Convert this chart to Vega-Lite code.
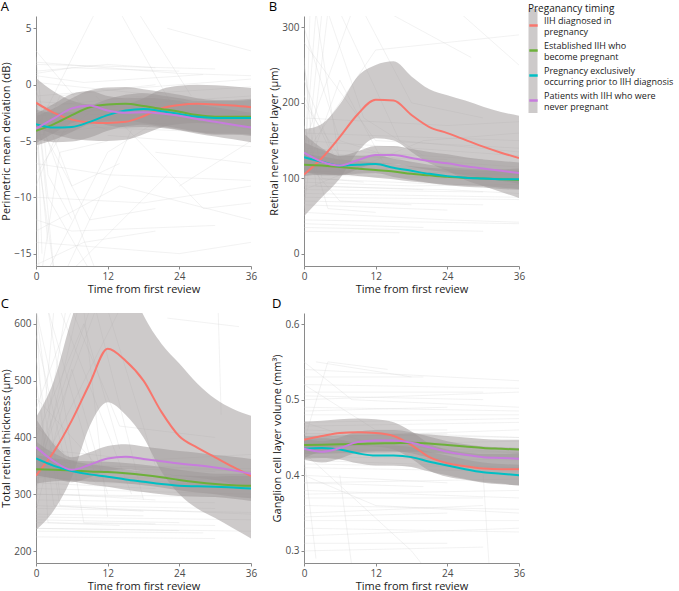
{
"$schema": "https://vega.github.io/schema/vega-lite/v6.json",
"padding": {"left": 0, "top": 1, "right": 0, "bottom": 4},
"background": "white",
"config": {
  "font": "Open Sans",
  "view": {"stroke": null},
  "axis": {"grid": false, "domainColor": "#8a8a8a", "domainWidth": 1, "tickColor": "#8a8a8a", "tickSize": 3, "labelColor": "#4d4d4d", "labelFontSize": 10, "titleFontSize": 11, "titleFontWeight": "normal", "titleColor": "#1a1a1a", "labelPadding": 2, "titlePadding": 2, "labelFlush": false, "labelOverlap": false},
  "title": {"fontSize": 13, "fontWeight": "normal", "color": "#000000", "anchor": "start", "offset": 2}
},
"datasets": {
"bg": [
{"p":"A","id":"A1","t":0,"v":-1},{"p":"A","id":"A1","t":12,"v":-0.5},{"p":"A","id":"A1","t":36,"v":0.5},
{"p":"A","id":"A2","t":0,"v":1},{"p":"A","id":"A2","t":6,"v":1.5},{"p":"A","id":"A2","t":24,"v":1.2},
{"p":"A","id":"A3","t":0,"v":-2},{"p":"A","id":"A3","t":18,"v":-1},{"p":"A","id":"A3","t":30,"v":-1.5},
{"p":"A","id":"A4","t":0,"v":-5},{"p":"A","id":"A4","t":3,"v":-16.5},
{"p":"A","id":"A5","t":0,"v":-8},{"p":"A","id":"A5","t":6,"v":-3},{"p":"A","id":"A5","t":12,"v":-4},
{"p":"A","id":"A6","t":0,"v":0.5},{"p":"A","id":"A6","t":1,"v":-15},
{"p":"A","id":"A7","t":0,"v":-3},{"p":"A","id":"A7","t":9,"v":-12},{"p":"A","id":"A7","t":20,"v":-11},
{"p":"A","id":"A8","t":2,"v":-16.5},{"p":"A","id":"A8","t":12,"v":-6},{"p":"A","id":"A8","t":24,"v":-2},
{"p":"A","id":"A9","t":0,"v":-12},{"p":"A","id":"A9","t":6,"v":-13},{"p":"A","id":"A9","t":30,"v":-12.5},
{"p":"A","id":"A10","t":0,"v":-4},{"p":"A","id":"A10","t":10,"v":6.5},
{"p":"A","id":"A11","t":14,"v":6.5},{"p":"A","id":"A11","t":24,"v":-3},{"p":"A","id":"A11","t":36,"v":-4},
{"p":"A","id":"A12","t":0,"v":-10},{"p":"A","id":"A12","t":18,"v":-10.5},{"p":"A","id":"A12","t":36,"v":-9},
{"p":"A","id":"A13","t":0,"v":2},{"p":"A","id":"A13","t":24,"v":1},{"p":"A","id":"A13","t":36,"v":0.8},
{"p":"A","id":"A14","t":0,"v":-6},{"p":"A","id":"A14","t":4,"v":-1},{"p":"A","id":"A14","t":20,"v":0},
{"p":"A","id":"A15","t":0,"v":-14},{"p":"A","id":"A15","t":24,"v":-15},{"p":"A","id":"A15","t":36,"v":-14},
{"p":"A","id":"A16","t":0,"v":-1.5},{"p":"A","id":"A16","t":30,"v":-2.5},
{"p":"A","id":"A17","t":5,"v":-16.5},{"p":"A","id":"A17","t":16,"v":-4},
{"p":"A","id":"A18","t":0,"v":-7},{"p":"A","id":"A18","t":12,"v":-8},{"p":"A","id":"A18","t":36,"v":-8.5},
{"p":"A","id":"A19","t":10,"v":-1},{"p":"A","id":"A19","t":28,"v":-11},{"p":"A","id":"A19","t":36,"v":-10.5},
{"p":"A","id":"A20","t":0,"v":3},{"p":"A","id":"A20","t":8,"v":-2},{"p":"A","id":"A20","t":36,"v":-1},
{"p":"A","id":"A21","t":0,"v":-3.5},{"p":"A","id":"A21","t":2,"v":-14},
{"p":"A","id":"A22","t":0,"v":-2.5},{"p":"A","id":"A22","t":36,"v":-3},
{"p":"A","id":"A23","t":20,"v":-6},{"p":"A","id":"A23","t":36,"v":-7},
{"p":"A","id":"A24","t":0,"v":-0.5},{"p":"A","id":"A24","t":6,"v":-9},{"p":"A","id":"A24","t":14,"v":-7},
{"p":"A","id":"A25","t":17,"v":6.5},{"p":"A","id":"A25","t":26,"v":-1},
{"p":"A","id":"A26","t":0,"v":1.2},{"p":"A","id":"A26","t":12,"v":1.8},{"p":"A","id":"A26","t":20,"v":1.5},
{"p":"A","id":"A27","t":0,"v":-9},{"p":"A","id":"A27","t":3,"v":-5},{"p":"A","id":"A27","t":10,"v":-2},
{"p":"A","id":"A28","t":0,"v":-16},{"p":"A","id":"A28","t":8,"v":-14},{"p":"A","id":"A28","t":20,"v":-13},
{"p":"A","id":"A29","t":24,"v":-9},{"p":"A","id":"A29","t":36,"v":-5},
{"p":"A","id":"A30","t":0,"v":-1},{"p":"A","id":"A30","t":2,"v":-10},{"p":"A","id":"A30","t":9,"v":-16.5},
{"p":"A","id":"A31","t":0,"v":-2.8},{"p":"A","id":"A31","t":12,"v":-2.2},{"p":"A","id":"A31","t":36,"v":-2.6},
{"p":"A","id":"A32","t":0,"v":0.2},{"p":"A","id":"A32","t":18,"v":-0.8},{"p":"A","id":"A32","t":36,"v":-0.2},
{"p":"A","id":"A33","t":0,"v":-3.2},{"p":"A","id":"A33","t":24,"v":-3.5},
{"p":"A","id":"A34","t":0,"v":-4.5},{"p":"A","id":"A34","t":10,"v":-3.8},{"p":"A","id":"A34","t":30,"v":-4.2},
{"p":"A","id":"A35","t":0,"v":1.8},{"p":"A","id":"A35","t":30,"v":1.4},
{"p":"A","id":"A36","t":0,"v":-0.8},{"p":"A","id":"A36","t":3,"v":-16.5},
{"p":"A","id":"A37","t":1,"v":-16.5},{"p":"A","id":"A37","t":4,"v":-6},{"p":"A","id":"A37","t":12,"v":-5},
{"p":"A","id":"A38","t":0,"v":-6},{"p":"A","id":"A38","t":0.5,"v":-16.5},
{"p":"A","id":"A39","t":0,"v":-2},{"p":"A","id":"A39","t":6,"v":-11},{"p":"A","id":"A39","t":10,"v":-16.5},
{"p":"A","id":"A40","t":0,"v":2.5},{"p":"A","id":"A40","t":2,"v":-8},{"p":"A","id":"A40","t":6,"v":-12},
{"p":"A","id":"A41","t":6,"v":-16.5},{"p":"A","id":"A41","t":22,"v":-8},
{"p":"A","id":"A42","t":0,"v":-13},{"p":"A","id":"A42","t":14,"v":-9},{"p":"A","id":"A42","t":36,"v":-12},
{"p":"A","id":"A43","t":12,"v":-4.5},{"p":"A","id":"A43","t":36,"v":-5.5},
{"p":"A","id":"A44","t":0,"v":0.8},{"p":"A","id":"A44","t":8,"v":0.2},{"p":"A","id":"A44","t":28,"v":0.9},
{"p":"A","id":"A45","t":22,"v":5},{"p":"A","id":"A45","t":36,"v":3},
{"p":"B","id":"B1","t":0,"v":120},{"p":"B","id":"B1","t":12,"v":110},{"p":"B","id":"B1","t":36,"v":105},
{"p":"B","id":"B2","t":0,"v":90},{"p":"B","id":"B2","t":24,"v":85},{"p":"B","id":"B2","t":36,"v":80},
{"p":"B","id":"B3","t":0,"v":150},{"p":"B","id":"B3","t":18,"v":140},{"p":"B","id":"B3","t":36,"v":130},
{"p":"B","id":"B4","t":0,"v":300},{"p":"B","id":"B4","t":6,"v":150},{"p":"B","id":"B4","t":18,"v":120},
{"p":"B","id":"B5","t":0,"v":40},{"p":"B","id":"B5","t":20,"v":35},
{"p":"B","id":"B6","t":0,"v":70},{"p":"B","id":"B6","t":30,"v":65},
{"p":"B","id":"B7","t":0,"v":250},{"p":"B","id":"B7","t":3,"v":100},{"p":"B","id":"B7","t":10,"v":95},
{"p":"B","id":"B8","t":2,"v":320},{"p":"B","id":"B8","t":6,"v":120},
{"p":"B","id":"B9","t":0,"v":60},{"p":"B","id":"B9","t":4,"v":320},
{"p":"B","id":"B10","t":0,"v":180},{"p":"B","id":"B10","t":24,"v":170},{"p":"B","id":"B10","t":36,"v":175},
{"p":"B","id":"B11","t":0,"v":110},{"p":"B","id":"B11","t":36,"v":100},
{"p":"B","id":"B12","t":0,"v":130},{"p":"B","id":"B12","t":12,"v":270},{"p":"B","id":"B12","t":36,"v":290},
{"p":"B","id":"B13","t":10,"v":320},{"p":"B","id":"B13","t":18,"v":200},{"p":"B","id":"B13","t":30,"v":180},
{"p":"B","id":"B14","t":0,"v":100},{"p":"B","id":"B14","t":6,"v":230},{"p":"B","id":"B14","t":14,"v":110},
{"p":"B","id":"B15","t":0,"v":80},{"p":"B","id":"B15","t":36,"v":75},
{"p":"B","id":"B16","t":0,"v":200},{"p":"B","id":"B16","t":8,"v":105},{"p":"B","id":"B16","t":30,"v":100},
{"p":"B","id":"B17","t":0,"v":55},{"p":"B","id":"B17","t":24,"v":45},{"p":"B","id":"B17","t":36,"v":42},
{"p":"B","id":"B18","t":0,"v":140},{"p":"B","id":"B18","t":30,"v":125},
{"p":"B","id":"B19","t":0,"v":95},{"p":"B","id":"B19","t":18,"v":90},{"p":"B","id":"B19","t":36,"v":92},
{"p":"B","id":"B20","t":0,"v":280},{"p":"B","id":"B20","t":12,"v":150},{"p":"B","id":"B20","t":36,"v":140},
{"p":"B","id":"B21","t":4,"v":320},{"p":"B","id":"B21","t":10,"v":180},{"p":"B","id":"B21","t":20,"v":130},
{"p":"B","id":"B22","t":0,"v":35},{"p":"B","id":"B22","t":30,"v":30},
{"p":"B","id":"B23","t":0,"v":160},{"p":"B","id":"B23","t":36,"v":150},
{"p":"B","id":"B24","t":0,"v":115},{"p":"B","id":"B24","t":2,"v":320},
{"p":"B","id":"B25","t":26,"v":320},{"p":"B","id":"B25","t":36,"v":250},
{"p":"B","id":"B26","t":0,"v":105},{"p":"B","id":"B26","t":24,"v":100},
{"p":"B","id":"B27","t":0,"v":230},{"p":"B","id":"B27","t":5,"v":130},{"p":"B","id":"B27","t":24,"v":125},
{"p":"B","id":"B28","t":0,"v":85},{"p":"B","id":"B28","t":20,"v":150},{"p":"B","id":"B28","t":36,"v":160},
{"p":"B","id":"B29","t":14,"v":320},{"p":"B","id":"B29","t":28,"v":260},
{"p":"B","id":"B30","t":0,"v":125},{"p":"B","id":"B30","t":6,"v":70},{"p":"B","id":"B30","t":18,"v":65},
{"p":"B","id":"B31","t":0,"v":45},{"p":"B","id":"B31","t":36,"v":40},
{"p":"B","id":"B32","t":0,"v":65},{"p":"B","id":"B32","t":24,"v":58},
{"p":"B","id":"B33","t":0,"v":75},{"p":"B","id":"B33","t":36,"v":72},
{"p":"B","id":"B34","t":0,"v":100},{"p":"B","id":"B34","t":30,"v":90},
{"p":"B","id":"B35","t":0,"v":135},{"p":"B","id":"B35","t":36,"v":115},
{"p":"B","id":"B36","t":0,"v":50},{"p":"B","id":"B36","t":1,"v":320},
{"p":"B","id":"B37","t":0,"v":90},{"p":"B","id":"B37","t":3,"v":320},
{"p":"B","id":"B38","t":0,"v":210},{"p":"B","id":"B38","t":6,"v":110},{"p":"B","id":"B38","t":36,"v":105},
{"p":"B","id":"B39","t":0,"v":260},{"p":"B","id":"B39","t":2,"v":90},{"p":"B","id":"B39","t":20,"v":85},
{"p":"B","id":"B40","t":0,"v":30},{"p":"B","id":"B40","t":16,"v":28},
{"p":"B","id":"B41","t":0,"v":145},{"p":"B","id":"B41","t":8,"v":320},
{"p":"B","id":"B42","t":6,"v":320},{"p":"B","id":"B42","t":16,"v":150},{"p":"B","id":"B42","t":36,"v":135},
{"p":"B","id":"B43","t":0,"v":115},{"p":"B","id":"B43","t":24,"v":112},{"p":"B","id":"B43","t":36,"v":108},
{"p":"B","id":"B44","t":0,"v":85},{"p":"B","id":"B44","t":30,"v":82},
{"p":"B","id":"B45","t":0,"v":170},{"p":"B","id":"B45","t":4,"v":60},{"p":"B","id":"B45","t":12,"v":55},
{"p":"C","id":"C1","t":0,"v":330},{"p":"C","id":"C1","t":18,"v":320},{"p":"C","id":"C1","t":36,"v":315},
{"p":"C","id":"C2","t":0,"v":280},{"p":"C","id":"C2","t":24,"v":270},{"p":"C","id":"C2","t":36,"v":265},
{"p":"C","id":"C3","t":0,"v":625},{"p":"C","id":"C3","t":4,"v":300},{"p":"C","id":"C3","t":20,"v":290},
{"p":"C","id":"C4","t":0,"v":250},{"p":"C","id":"C4","t":30,"v":245},
{"p":"C","id":"C5","t":0,"v":450},{"p":"C","id":"C5","t":6,"v":625},
{"p":"C","id":"C6","t":0,"v":360},{"p":"C","id":"C6","t":12,"v":350},{"p":"C","id":"C6","t":36,"v":340},
{"p":"C","id":"C7","t":2,"v":625},{"p":"C","id":"C7","t":10,"v":330},{"p":"C","id":"C7","t":24,"v":320},
{"p":"C","id":"C8","t":0,"v":300},{"p":"C","id":"C8","t":36,"v":295},
{"p":"C","id":"C9","t":0,"v":500},{"p":"C","id":"C9","t":3,"v":280},{"p":"C","id":"C9","t":18,"v":270},
{"p":"C","id":"C10","t":0,"v":235},{"p":"C","id":"C10","t":28,"v":232},
{"p":"C","id":"C11","t":0,"v":400},{"p":"C","id":"C11","t":8,"v":600},{"p":"C","id":"C11","t":14,"v":380},
{"p":"C","id":"C12","t":6,"v":625},{"p":"C","id":"C12","t":14,"v":420},{"p":"C","id":"C12","t":30,"v":400},
{"p":"C","id":"C13","t":0,"v":320},{"p":"C","id":"C13","t":20,"v":310},
{"p":"C","id":"C14","t":0,"v":580},{"p":"C","id":"C14","t":5,"v":350},{"p":"C","id":"C14","t":36,"v":345},
{"p":"C","id":"C15","t":0,"v":260},{"p":"C","id":"C15","t":36,"v":255},
{"p":"C","id":"C16","t":0,"v":340},{"p":"C","id":"C16","t":10,"v":625},
{"p":"C","id":"C17","t":12,"v":625},{"p":"C","id":"C17","t":20,"v":350},{"p":"C","id":"C17","t":36,"v":340},
{"p":"C","id":"C18","t":0,"v":290},{"p":"C","id":"C18","t":30,"v":285},
{"p":"C","id":"C19","t":0,"v":625},{"p":"C","id":"C19","t":2,"v":250},{"p":"C","id":"C19","t":14,"v":245},
{"p":"C","id":"C20","t":0,"v":380},{"p":"C","id":"C20","t":18,"v":360},{"p":"C","id":"C20","t":36,"v":370},
{"p":"C","id":"C21","t":4,"v":625},{"p":"C","id":"C21","t":16,"v":300},
{"p":"C","id":"C22","t":0,"v":270},{"p":"C","id":"C22","t":6,"v":520},{"p":"C","id":"C22","t":12,"v":300},
{"p":"C","id":"C23","t":0,"v":310},{"p":"C","id":"C23","t":36,"v":300},
{"p":"C","id":"C24","t":22,"v":610},{"p":"C","id":"C24","t":34,"v":595},
{"p":"C","id":"C25","t":30.5,"v":625},{"p":"C","id":"C25","t":31,"v":440},
{"p":"C","id":"C26","t":0,"v":240},{"p":"C","id":"C26","t":24,"v":236},
{"p":"C","id":"C27","t":0,"v":350},{"p":"C","id":"C27","t":9,"v":625},
{"p":"C","id":"C28","t":0,"v":420},{"p":"C","id":"C28","t":10,"v":320},{"p":"C","id":"C28","t":36,"v":318},
{"p":"C","id":"C29","t":0,"v":265},{"p":"C","id":"C29","t":18,"v":262},
{"p":"C","id":"C30","t":8,"v":625},{"p":"C","id":"C30","t":12,"v":260},
{"p":"C","id":"C31","t":0,"v":240},{"p":"C","id":"C31","t":36,"v":235},
{"p":"C","id":"C32","t":0,"v":255},{"p":"C","id":"C32","t":24,"v":250},
{"p":"C","id":"C33","t":0,"v":275},{"p":"C","id":"C33","t":36,"v":268},
{"p":"C","id":"C34","t":0,"v":300},{"p":"C","id":"C34","t":18,"v":295},
{"p":"C","id":"C35","t":0,"v":225},{"p":"C","id":"C35","t":30,"v":222},
{"p":"C","id":"C36","t":0,"v":280},{"p":"C","id":"C36","t":3,"v":625},
{"p":"C","id":"C37","t":0,"v":300},{"p":"C","id":"C37","t":5,"v":625},
{"p":"C","id":"C38","t":0,"v":625},{"p":"C","id":"C38","t":6,"v":340},{"p":"C","id":"C38","t":24,"v":330},
{"p":"C","id":"C39","t":0,"v":540},{"p":"C","id":"C39","t":4,"v":280},{"p":"C","id":"C39","t":30,"v":275},
{"p":"C","id":"C40","t":0,"v":330},{"p":"C","id":"C40","t":14,"v":625},
{"p":"C","id":"C41","t":2,"v":625},{"p":"C","id":"C41","t":8,"v":250},{"p":"C","id":"C41","t":20,"v":248},
{"p":"C","id":"C42","t":0,"v":470},{"p":"C","id":"C42","t":12,"v":330},{"p":"C","id":"C42","t":36,"v":325},
{"p":"C","id":"C43","t":0,"v":310},{"p":"C","id":"C43","t":7,"v":625},
{"p":"C","id":"C44","t":10,"v":625},{"p":"C","id":"C44","t":18,"v":290},
{"p":"C","id":"C45","t":0,"v":350},{"p":"C","id":"C45","t":30,"v":340},
{"p":"D","id":"D1","t":0,"v":0.46},{"p":"D","id":"D1","t":36,"v":0.45},
{"p":"D","id":"D2","t":0,"v":0.5},{"p":"D","id":"D2","t":36,"v":0.51},
{"p":"D","id":"D3","t":0,"v":0.42},{"p":"D","id":"D3","t":36,"v":0.41},
{"p":"D","id":"D4","t":0,"v":0.38},{"p":"D","id":"D4","t":36,"v":0.37},
{"p":"D","id":"D5","t":0,"v":0.35},{"p":"D","id":"D5","t":30,"v":0.36},
{"p":"D","id":"D6","t":0,"v":0.53},{"p":"D","id":"D6","t":20,"v":0.53},
{"p":"D","id":"D7","t":0,"v":0.47},{"p":"D","id":"D7","t":12,"v":0.44},{"p":"D","id":"D7","t":36,"v":0.43},
{"p":"D","id":"D8","t":0,"v":0.4},{"p":"D","id":"D8","t":24,"v":0.39},
{"p":"D","id":"D9","t":0,"v":0.32},{"p":"D","id":"D9","t":36,"v":0.33},
{"p":"D","id":"D10","t":0,"v":0.55},{"p":"D","id":"D10","t":8,"v":0.5},{"p":"D","id":"D10","t":36,"v":0.49},
{"p":"D","id":"D11","t":0,"v":0.44},{"p":"D","id":"D11","t":36,"v":0.445},
{"p":"D","id":"D12","t":0,"v":0.48},{"p":"D","id":"D12","t":36,"v":0.48},
{"p":"D","id":"D13","t":0,"v":0.36},{"p":"D","id":"D13","t":36,"v":0.355},
{"p":"D","id":"D14","t":0,"v":0.43},{"p":"D","id":"D14","t":18,"v":0.3},{"p":"D","id":"D14","t":20,"v":0.28},
{"p":"D","id":"D15","t":0,"v":0.51},{"p":"D","id":"D15","t":30,"v":0.51},
{"p":"D","id":"D16","t":0,"v":0.41},{"p":"D","id":"D16","t":36,"v":0.405},
{"p":"D","id":"D17","t":0,"v":0.39},{"p":"D","id":"D17","t":20,"v":0.385},
{"p":"D","id":"D18","t":2,"v":0.55},{"p":"D","id":"D18","t":18,"v":0.53},
{"p":"D","id":"D19","t":0,"v":0.45},{"p":"D","id":"D19","t":36,"v":0.46},
{"p":"D","id":"D20","t":0,"v":0.34},{"p":"D","id":"D20","t":36,"v":0.34},
{"p":"D","id":"D21","t":0,"v":0.52},{"p":"D","id":"D21","t":12,"v":0.46},{"p":"D","id":"D21","t":24,"v":0.46},
{"p":"D","id":"D22","t":0,"v":0.37},{"p":"D","id":"D22","t":30,"v":0.37},
{"p":"D","id":"D23","t":0,"v":0.49},{"p":"D","id":"D23","t":36,"v":0.485},
{"p":"D","id":"D24","t":30,"v":0.4},{"p":"D","id":"D24","t":31,"v":0.28},
{"p":"D","id":"D25","t":0,"v":0.425},{"p":"D","id":"D25","t":36,"v":0.42},
{"p":"D","id":"D26","t":0,"v":0.31},{"p":"D","id":"D26","t":24,"v":0.31},
{"p":"D","id":"D27","t":0,"v":0.47},{"p":"D","id":"D27","t":36,"v":0.475},
{"p":"D","id":"D28","t":6,"v":0.4},{"p":"D","id":"D28","t":8,"v":0.28},
{"p":"D","id":"D29","t":0,"v":0.455},{"p":"D","id":"D29","t":24,"v":0.455},
{"p":"D","id":"D30","t":0,"v":0.33},{"p":"D","id":"D30","t":36,"v":0.325},
{"p":"D","id":"D31","t":0,"v":0.465},{"p":"D","id":"D31","t":36,"v":0.47},
{"p":"D","id":"D32","t":0,"v":0.505},{"p":"D","id":"D32","t":30,"v":0.5},
{"p":"D","id":"D33","t":0,"v":0.435},{"p":"D","id":"D33","t":36,"v":0.43},
{"p":"D","id":"D34","t":0,"v":0.39},{"p":"D","id":"D34","t":36,"v":0.395},
{"p":"D","id":"D35","t":0,"v":0.345},{"p":"D","id":"D35","t":24,"v":0.35},
{"p":"D","id":"D36","t":0,"v":0.415},{"p":"D","id":"D36","t":36,"v":0.41},
{"p":"D","id":"D37","t":0,"v":0.455},{"p":"D","id":"D37","t":36,"v":0.45},
{"p":"D","id":"D38","t":0,"v":0.52},{"p":"D","id":"D38","t":36,"v":0.515},
{"p":"D","id":"D39","t":0,"v":0.375},{"p":"D","id":"D39","t":36,"v":0.38},
{"p":"D","id":"D40","t":0,"v":0.485},{"p":"D","id":"D40","t":24,"v":0.49},
{"p":"D","id":"D41","t":0,"v":0.4},{"p":"D","id":"D41","t":12,"v":0.36},{"p":"D","id":"D41","t":36,"v":0.35},
{"p":"D","id":"D42","t":0,"v":0.445},{"p":"D","id":"D42","t":4,"v":0.55},{"p":"D","id":"D42","t":14,"v":0.54},
{"p":"D","id":"D43","t":0,"v":0.3},{"p":"D","id":"D43","t":30,"v":0.305},
{"p":"D","id":"D44","t":0,"v":0.425},{"p":"D","id":"D44","t":2,"v":0.29},
{"p":"D","id":"D45","t":0,"v":0.54},{"p":"D","id":"D45","t":36,"v":0.525}
],
"fit": [
{"p":"A","g":"IIH diagnosed in pregnancy","t":0,"v":-1.6,"lo":-3.8,"hi":0.6},
{"p":"A","g":"IIH diagnosed in pregnancy","t":3,"v":-2.5,"lo":-4.4,"hi":-0.6},
{"p":"A","g":"IIH diagnosed in pregnancy","t":6,"v":-3.1,"lo":-4.8,"hi":-1.4},
{"p":"A","g":"IIH diagnosed in pregnancy","t":9,"v":-3.35,"lo":-4.95,"hi":-1.75},
{"p":"A","g":"IIH diagnosed in pregnancy","t":12,"v":-3.4,"lo":-5.0,"hi":-1.8},
{"p":"A","g":"IIH diagnosed in pregnancy","t":15,"v":-3.3,"lo":-4.9,"hi":-1.7},
{"p":"A","g":"IIH diagnosed in pregnancy","t":18,"v":-2.8,"lo":-4.4,"hi":-1.2},
{"p":"A","g":"IIH diagnosed in pregnancy","t":21,"v":-2.1,"lo":-3.8,"hi":-0.4},
{"p":"A","g":"IIH diagnosed in pregnancy","t":24,"v":-1.8,"lo":-3.5,"hi":-0.1},
{"p":"A","g":"IIH diagnosed in pregnancy","t":27,"v":-1.7,"lo":-3.4,"hi":0.0},
{"p":"A","g":"IIH diagnosed in pregnancy","t":30,"v":-1.75,"lo":-3.45,"hi":-0.05},
{"p":"A","g":"IIH diagnosed in pregnancy","t":33,"v":-1.85,"lo":-3.55,"hi":-0.15},
{"p":"A","g":"IIH diagnosed in pregnancy","t":36,"v":-2.0,"lo":-3.7,"hi":-0.3},
{"p":"A","g":"Established IIH who become pregnant","t":0,"v":-4.1,"lo":-5.4,"hi":-2.8},
{"p":"A","g":"Established IIH who become pregnant","t":3,"v":-3.5,"lo":-4.9,"hi":-2.1},
{"p":"A","g":"Established IIH who become pregnant","t":6,"v":-2.7,"lo":-4.2,"hi":-1.2},
{"p":"A","g":"Established IIH who become pregnant","t":9,"v":-2.0,"lo":-3.5,"hi":-0.5},
{"p":"A","g":"Established IIH who become pregnant","t":12,"v":-1.75,"lo":-3.25,"hi":-0.25},
{"p":"A","g":"Established IIH who become pregnant","t":15,"v":-1.7,"lo":-3.2,"hi":-0.2},
{"p":"A","g":"Established IIH who become pregnant","t":18,"v":-1.9,"lo":-3.4,"hi":-0.4},
{"p":"A","g":"Established IIH who become pregnant","t":21,"v":-2.15,"lo":-3.65,"hi":-0.65},
{"p":"A","g":"Established IIH who become pregnant","t":24,"v":-2.4,"lo":-3.9,"hi":-0.9},
{"p":"A","g":"Established IIH who become pregnant","t":27,"v":-2.7,"lo":-4.2,"hi":-1.2},
{"p":"A","g":"Established IIH who become pregnant","t":30,"v":-2.85,"lo":-4.35,"hi":-1.35},
{"p":"A","g":"Established IIH who become pregnant","t":33,"v":-2.85,"lo":-4.35,"hi":-1.35},
{"p":"A","g":"Established IIH who become pregnant","t":36,"v":-2.85,"lo":-4.45,"hi":-1.25},
{"p":"A","g":"Pregnancy exclusively occurring prior to IIH diagnosis","t":0,"v":-3.5,"lo":-4.8,"hi":-2.2},
{"p":"A","g":"Pregnancy exclusively occurring prior to IIH diagnosis","t":3,"v":-3.8,"lo":-5.1,"hi":-2.5},
{"p":"A","g":"Pregnancy exclusively occurring prior to IIH diagnosis","t":6,"v":-3.75,"lo":-5.05,"hi":-2.45},
{"p":"A","g":"Pregnancy exclusively occurring prior to IIH diagnosis","t":9,"v":-3.3,"lo":-4.7,"hi":-1.9},
{"p":"A","g":"Pregnancy exclusively occurring prior to IIH diagnosis","t":12,"v":-2.7,"lo":-4.1,"hi":-1.3},
{"p":"A","g":"Pregnancy exclusively occurring prior to IIH diagnosis","t":15,"v":-2.3,"lo":-3.7,"hi":-0.9},
{"p":"A","g":"Pregnancy exclusively occurring prior to IIH diagnosis","t":18,"v":-2.15,"lo":-3.55,"hi":-0.75},
{"p":"A","g":"Pregnancy exclusively occurring prior to IIH diagnosis","t":21,"v":-2.35,"lo":-3.75,"hi":-0.95},
{"p":"A","g":"Pregnancy exclusively occurring prior to IIH diagnosis","t":24,"v":-2.6,"lo":-4.0,"hi":-1.2},
{"p":"A","g":"Pregnancy exclusively occurring prior to IIH diagnosis","t":27,"v":-2.85,"lo":-4.25,"hi":-1.45},
{"p":"A","g":"Pregnancy exclusively occurring prior to IIH diagnosis","t":30,"v":-2.95,"lo":-4.45,"hi":-1.45},
{"p":"A","g":"Pregnancy exclusively occurring prior to IIH diagnosis","t":33,"v":-2.95,"lo":-4.45,"hi":-1.45},
{"p":"A","g":"Pregnancy exclusively occurring prior to IIH diagnosis","t":36,"v":-2.95,"lo":-4.55,"hi":-1.35},
{"p":"A","g":"Patients with IIH who were never pregnant","t":0,"v":-3.9,"lo":-5.2,"hi":-2.6},
{"p":"A","g":"Patients with IIH who were never pregnant","t":3,"v":-3.0,"lo":-4.3,"hi":-1.7},
{"p":"A","g":"Patients with IIH who were never pregnant","t":6,"v":-2.1,"lo":-3.4,"hi":-0.8},
{"p":"A","g":"Patients with IIH who were never pregnant","t":9,"v":-1.85,"lo":-3.15,"hi":-0.55},
{"p":"A","g":"Patients with IIH who were never pregnant","t":12,"v":-2.3,"lo":-3.6,"hi":-1.0},
{"p":"A","g":"Patients with IIH who were never pregnant","t":15,"v":-2.5,"lo":-3.8,"hi":-1.2},
{"p":"A","g":"Patients with IIH who were never pregnant","t":18,"v":-2.45,"lo":-3.75,"hi":-1.15},
{"p":"A","g":"Patients with IIH who were never pregnant","t":21,"v":-2.55,"lo":-3.85,"hi":-1.25},
{"p":"A","g":"Patients with IIH who were never pregnant","t":24,"v":-2.75,"lo":-4.05,"hi":-1.45},
{"p":"A","g":"Patients with IIH who were never pregnant","t":27,"v":-3.05,"lo":-4.35,"hi":-1.75},
{"p":"A","g":"Patients with IIH who were never pregnant","t":30,"v":-3.3,"lo":-4.6,"hi":-2.0},
{"p":"A","g":"Patients with IIH who were never pregnant","t":33,"v":-3.55,"lo":-4.85,"hi":-2.25},
{"p":"A","g":"Patients with IIH who were never pregnant","t":36,"v":-3.8,"lo":-5.1,"hi":-2.5},
{"p":"B","g":"IIH diagnosed in pregnancy","t":0,"v":105,"lo":50,"hi":165},
{"p":"B","g":"IIH diagnosed in pregnancy","t":3,"v":127,"lo":75,"hi":172},
{"p":"B","g":"IIH diagnosed in pregnancy","t":6,"v":155,"lo":100,"hi":198},
{"p":"B","g":"IIH diagnosed in pregnancy","t":9,"v":185,"lo":135,"hi":235},
{"p":"B","g":"IIH diagnosed in pregnancy","t":12,"v":204,"lo":153,"hi":250},
{"p":"B","g":"IIH diagnosed in pregnancy","t":15,"v":203,"lo":150,"hi":255},
{"p":"B","g":"IIH diagnosed in pregnancy","t":18,"v":184,"lo":135,"hi":235},
{"p":"B","g":"IIH diagnosed in pregnancy","t":21,"v":168,"lo":120,"hi":218},
{"p":"B","g":"IIH diagnosed in pregnancy","t":24,"v":160,"lo":110,"hi":210},
{"p":"B","g":"IIH diagnosed in pregnancy","t":27,"v":151,"lo":98,"hi":203},
{"p":"B","g":"IIH diagnosed in pregnancy","t":30,"v":142,"lo":90,"hi":195},
{"p":"B","g":"IIH diagnosed in pregnancy","t":33,"v":134,"lo":82,"hi":188},
{"p":"B","g":"IIH diagnosed in pregnancy","t":36,"v":127,"lo":74,"hi":183},
{"p":"B","g":"Established IIH who become pregnant","t":0,"v":118,"lo":103,"hi":133},
{"p":"B","g":"Established IIH who become pregnant","t":3,"v":117,"lo":105,"hi":129},
{"p":"B","g":"Established IIH who become pregnant","t":6,"v":115,"lo":105,"hi":125},
{"p":"B","g":"Established IIH who become pregnant","t":9,"v":113,"lo":103,"hi":123},
{"p":"B","g":"Established IIH who become pregnant","t":12,"v":111,"lo":101,"hi":121},
{"p":"B","g":"Established IIH who become pregnant","t":15,"v":109,"lo":99,"hi":119},
{"p":"B","g":"Established IIH who become pregnant","t":18,"v":106,"lo":96,"hi":116},
{"p":"B","g":"Established IIH who become pregnant","t":21,"v":104,"lo":94,"hi":114},
{"p":"B","g":"Established IIH who become pregnant","t":24,"v":102,"lo":92,"hi":112},
{"p":"B","g":"Established IIH who become pregnant","t":27,"v":101,"lo":91,"hi":111},
{"p":"B","g":"Established IIH who become pregnant","t":30,"v":100,"lo":90,"hi":110},
{"p":"B","g":"Established IIH who become pregnant","t":33,"v":99,"lo":88,"hi":110},
{"p":"B","g":"Established IIH who become pregnant","t":36,"v":98,"lo":86,"hi":110},
{"p":"B","g":"Pregnancy exclusively occurring prior to IIH diagnosis","t":0,"v":128,"lo":108,"hi":148},
{"p":"B","g":"Pregnancy exclusively occurring prior to IIH diagnosis","t":3,"v":122,"lo":106,"hi":138},
{"p":"B","g":"Pregnancy exclusively occurring prior to IIH diagnosis","t":6,"v":117,"lo":104,"hi":130},
{"p":"B","g":"Pregnancy exclusively occurring prior to IIH diagnosis","t":9,"v":118,"lo":106,"hi":130},
{"p":"B","g":"Pregnancy exclusively occurring prior to IIH diagnosis","t":12,"v":119,"lo":107,"hi":131},
{"p":"B","g":"Pregnancy exclusively occurring prior to IIH diagnosis","t":15,"v":114,"lo":102,"hi":126},
{"p":"B","g":"Pregnancy exclusively occurring prior to IIH diagnosis","t":18,"v":110,"lo":98,"hi":122},
{"p":"B","g":"Pregnancy exclusively occurring prior to IIH diagnosis","t":21,"v":106,"lo":94,"hi":118},
{"p":"B","g":"Pregnancy exclusively occurring prior to IIH diagnosis","t":24,"v":103,"lo":91,"hi":115},
{"p":"B","g":"Pregnancy exclusively occurring prior to IIH diagnosis","t":27,"v":101,"lo":89,"hi":113},
{"p":"B","g":"Pregnancy exclusively occurring prior to IIH diagnosis","t":30,"v":100,"lo":88,"hi":112},
{"p":"B","g":"Pregnancy exclusively occurring prior to IIH diagnosis","t":33,"v":99,"lo":86,"hi":112},
{"p":"B","g":"Pregnancy exclusively occurring prior to IIH diagnosis","t":36,"v":99,"lo":85,"hi":113},
{"p":"B","g":"Patients with IIH who were never pregnant","t":0,"v":134,"lo":109,"hi":159},
{"p":"B","g":"Patients with IIH who were never pregnant","t":3,"v":122,"lo":104,"hi":140},
{"p":"B","g":"Patients with IIH who were never pregnant","t":6,"v":117,"lo":104,"hi":130},
{"p":"B","g":"Patients with IIH who were never pregnant","t":9,"v":124,"lo":112,"hi":136},
{"p":"B","g":"Patients with IIH who were never pregnant","t":12,"v":131,"lo":119,"hi":143},
{"p":"B","g":"Patients with IIH who were never pregnant","t":15,"v":131,"lo":119,"hi":143},
{"p":"B","g":"Patients with IIH who were never pregnant","t":18,"v":127,"lo":115,"hi":139},
{"p":"B","g":"Patients with IIH who were never pregnant","t":21,"v":123,"lo":111,"hi":135},
{"p":"B","g":"Patients with IIH who were never pregnant","t":24,"v":120,"lo":108,"hi":132},
{"p":"B","g":"Patients with IIH who were never pregnant","t":27,"v":116,"lo":104,"hi":128},
{"p":"B","g":"Patients with IIH who were never pregnant","t":30,"v":113,"lo":101,"hi":125},
{"p":"B","g":"Patients with IIH who were never pregnant","t":33,"v":110,"lo":97,"hi":123},
{"p":"B","g":"Patients with IIH who were never pregnant","t":36,"v":107,"lo":93,"hi":121},
{"p":"C","g":"IIH diagnosed in pregnancy","t":0,"v":333,"lo":237,"hi":435},
{"p":"C","g":"IIH diagnosed in pregnancy","t":3,"v":375,"lo":272,"hi":500},
{"p":"C","g":"IIH diagnosed in pregnancy","t":6,"v":430,"lo":330,"hi":610},
{"p":"C","g":"IIH diagnosed in pregnancy","t":9,"v":495,"lo":420,"hi":700},
{"p":"C","g":"IIH diagnosed in pregnancy","t":12,"v":556,"lo":462,"hi":730},
{"p":"C","g":"IIH diagnosed in pregnancy","t":15,"v":535,"lo":440,"hi":690},
{"p":"C","g":"IIH diagnosed in pregnancy","t":18,"v":500,"lo":400,"hi":615},
{"p":"C","g":"IIH diagnosed in pregnancy","t":21,"v":445,"lo":340,"hi":565},
{"p":"C","g":"IIH diagnosed in pregnancy","t":24,"v":402,"lo":300,"hi":530},
{"p":"C","g":"IIH diagnosed in pregnancy","t":27,"v":382,"lo":275,"hi":495},
{"p":"C","g":"IIH diagnosed in pregnancy","t":30,"v":365,"lo":258,"hi":468},
{"p":"C","g":"IIH diagnosed in pregnancy","t":33,"v":348,"lo":240,"hi":450},
{"p":"C","g":"IIH diagnosed in pregnancy","t":36,"v":332,"lo":222,"hi":438},
{"p":"C","g":"Established IIH who become pregnant","t":0,"v":344,"lo":319,"hi":369},
{"p":"C","g":"Established IIH who become pregnant","t":3,"v":343,"lo":323,"hi":363},
{"p":"C","g":"Established IIH who become pregnant","t":6,"v":342,"lo":324,"hi":360},
{"p":"C","g":"Established IIH who become pregnant","t":9,"v":340,"lo":322,"hi":358},
{"p":"C","g":"Established IIH who become pregnant","t":12,"v":339,"lo":321,"hi":357},
{"p":"C","g":"Established IIH who become pregnant","t":15,"v":337,"lo":319,"hi":355},
{"p":"C","g":"Established IIH who become pregnant","t":18,"v":334,"lo":316,"hi":352},
{"p":"C","g":"Established IIH who become pregnant","t":21,"v":330,"lo":312,"hi":348},
{"p":"C","g":"Established IIH who become pregnant","t":24,"v":325,"lo":307,"hi":343},
{"p":"C","g":"Established IIH who become pregnant","t":27,"v":321,"lo":303,"hi":339},
{"p":"C","g":"Established IIH who become pregnant","t":30,"v":318,"lo":300,"hi":336},
{"p":"C","g":"Established IIH who become pregnant","t":33,"v":316,"lo":296,"hi":336},
{"p":"C","g":"Established IIH who become pregnant","t":36,"v":315,"lo":293,"hi":337},
{"p":"C","g":"Pregnancy exclusively occurring prior to IIH diagnosis","t":0,"v":363,"lo":333,"hi":393},
{"p":"C","g":"Pregnancy exclusively occurring prior to IIH diagnosis","t":3,"v":350,"lo":328,"hi":372},
{"p":"C","g":"Pregnancy exclusively occurring prior to IIH diagnosis","t":6,"v":341,"lo":323,"hi":359},
{"p":"C","g":"Pregnancy exclusively occurring prior to IIH diagnosis","t":9,"v":335,"lo":317,"hi":353},
{"p":"C","g":"Pregnancy exclusively occurring prior to IIH diagnosis","t":12,"v":331,"lo":313,"hi":349},
{"p":"C","g":"Pregnancy exclusively occurring prior to IIH diagnosis","t":15,"v":326,"lo":308,"hi":344},
{"p":"C","g":"Pregnancy exclusively occurring prior to IIH diagnosis","t":18,"v":322,"lo":304,"hi":340},
{"p":"C","g":"Pregnancy exclusively occurring prior to IIH diagnosis","t":21,"v":318,"lo":300,"hi":336},
{"p":"C","g":"Pregnancy exclusively occurring prior to IIH diagnosis","t":24,"v":315,"lo":297,"hi":333},
{"p":"C","g":"Pregnancy exclusively occurring prior to IIH diagnosis","t":27,"v":314,"lo":296,"hi":332},
{"p":"C","g":"Pregnancy exclusively occurring prior to IIH diagnosis","t":30,"v":313,"lo":295,"hi":331},
{"p":"C","g":"Pregnancy exclusively occurring prior to IIH diagnosis","t":33,"v":312,"lo":292,"hi":332},
{"p":"C","g":"Pregnancy exclusively occurring prior to IIH diagnosis","t":36,"v":310,"lo":288,"hi":332},
{"p":"C","g":"Patients with IIH who were never pregnant","t":0,"v":383,"lo":333,"hi":433},
{"p":"C","g":"Patients with IIH who were never pregnant","t":3,"v":358,"lo":328,"hi":388},
{"p":"C","g":"Patients with IIH who were never pregnant","t":6,"v":343,"lo":321,"hi":365},
{"p":"C","g":"Patients with IIH who were never pregnant","t":9,"v":352,"lo":330,"hi":374},
{"p":"C","g":"Patients with IIH who were never pregnant","t":12,"v":363,"lo":341,"hi":385},
{"p":"C","g":"Patients with IIH who were never pregnant","t":15,"v":366,"lo":344,"hi":388},
{"p":"C","g":"Patients with IIH who were never pregnant","t":18,"v":362,"lo":340,"hi":384},
{"p":"C","g":"Patients with IIH who were never pregnant","t":21,"v":358,"lo":336,"hi":380},
{"p":"C","g":"Patients with IIH who were never pregnant","t":24,"v":354,"lo":332,"hi":376},
{"p":"C","g":"Patients with IIH who were never pregnant","t":27,"v":351,"lo":329,"hi":373},
{"p":"C","g":"Patients with IIH who were never pregnant","t":30,"v":347,"lo":325,"hi":369},
{"p":"C","g":"Patients with IIH who were never pregnant","t":33,"v":342,"lo":318,"hi":366},
{"p":"C","g":"Patients with IIH who were never pregnant","t":36,"v":336,"lo":310,"hi":362},
{"p":"D","g":"IIH diagnosed in pregnancy","t":0,"v":0.447,"lo":0.423,"hi":0.471},
{"p":"D","g":"IIH diagnosed in pregnancy","t":3,"v":0.452,"lo":0.432,"hi":0.472},
{"p":"D","g":"IIH diagnosed in pregnancy","t":6,"v":0.456,"lo":0.438,"hi":0.474},
{"p":"D","g":"IIH diagnosed in pregnancy","t":9,"v":0.457,"lo":0.439,"hi":0.475},
{"p":"D","g":"IIH diagnosed in pregnancy","t":12,"v":0.456,"lo":0.438,"hi":0.474},
{"p":"D","g":"IIH diagnosed in pregnancy","t":15,"v":0.452,"lo":0.434,"hi":0.47},
{"p":"D","g":"IIH diagnosed in pregnancy","t":18,"v":0.44,"lo":0.422,"hi":0.458},
{"p":"D","g":"IIH diagnosed in pregnancy","t":21,"v":0.424,"lo":0.406,"hi":0.442},
{"p":"D","g":"IIH diagnosed in pregnancy","t":24,"v":0.416,"lo":0.398,"hi":0.434},
{"p":"D","g":"IIH diagnosed in pregnancy","t":27,"v":0.412,"lo":0.394,"hi":0.43},
{"p":"D","g":"IIH diagnosed in pregnancy","t":30,"v":0.409,"lo":0.39,"hi":0.428},
{"p":"D","g":"IIH diagnosed in pregnancy","t":33,"v":0.408,"lo":0.388,"hi":0.428},
{"p":"D","g":"IIH diagnosed in pregnancy","t":36,"v":0.408,"lo":0.387,"hi":0.429},
{"p":"D","g":"Established IIH who become pregnant","t":0,"v":0.44,"lo":0.428,"hi":0.452},
{"p":"D","g":"Established IIH who become pregnant","t":3,"v":0.4405,"lo":0.4285,"hi":0.4525},
{"p":"D","g":"Established IIH who become pregnant","t":6,"v":0.441,"lo":0.429,"hi":0.453},
{"p":"D","g":"Established IIH who become pregnant","t":9,"v":0.4415,"lo":0.4295,"hi":0.4535},
{"p":"D","g":"Established IIH who become pregnant","t":12,"v":0.442,"lo":0.43,"hi":0.454},
{"p":"D","g":"Established IIH who become pregnant","t":15,"v":0.4425,"lo":0.4305,"hi":0.4545},
{"p":"D","g":"Established IIH who become pregnant","t":18,"v":0.443,"lo":0.431,"hi":0.455},
{"p":"D","g":"Established IIH who become pregnant","t":21,"v":0.442,"lo":0.43,"hi":0.454},
{"p":"D","g":"Established IIH who become pregnant","t":24,"v":0.44,"lo":0.428,"hi":0.452},
{"p":"D","g":"Established IIH who become pregnant","t":27,"v":0.438,"lo":0.426,"hi":0.45},
{"p":"D","g":"Established IIH who become pregnant","t":30,"v":0.436,"lo":0.424,"hi":0.448},
{"p":"D","g":"Established IIH who become pregnant","t":33,"v":0.435,"lo":0.423,"hi":0.447},
{"p":"D","g":"Established IIH who become pregnant","t":36,"v":0.434,"lo":0.421,"hi":0.447},
{"p":"D","g":"Pregnancy exclusively occurring prior to IIH diagnosis","t":0,"v":0.435,"lo":0.422,"hi":0.448},
{"p":"D","g":"Pregnancy exclusively occurring prior to IIH diagnosis","t":3,"v":0.436,"lo":0.423,"hi":0.449},
{"p":"D","g":"Pregnancy exclusively occurring prior to IIH diagnosis","t":6,"v":0.434,"lo":0.421,"hi":0.447},
{"p":"D","g":"Pregnancy exclusively occurring prior to IIH diagnosis","t":9,"v":0.429,"lo":0.416,"hi":0.442},
{"p":"D","g":"Pregnancy exclusively occurring prior to IIH diagnosis","t":12,"v":0.426,"lo":0.413,"hi":0.439},
{"p":"D","g":"Pregnancy exclusively occurring prior to IIH diagnosis","t":15,"v":0.426,"lo":0.413,"hi":0.439},
{"p":"D","g":"Pregnancy exclusively occurring prior to IIH diagnosis","t":18,"v":0.424,"lo":0.411,"hi":0.437},
{"p":"D","g":"Pregnancy exclusively occurring prior to IIH diagnosis","t":21,"v":0.418,"lo":0.405,"hi":0.431},
{"p":"D","g":"Pregnancy exclusively occurring prior to IIH diagnosis","t":24,"v":0.413,"lo":0.4,"hi":0.426},
{"p":"D","g":"Pregnancy exclusively occurring prior to IIH diagnosis","t":27,"v":0.408,"lo":0.395,"hi":0.421},
{"p":"D","g":"Pregnancy exclusively occurring prior to IIH diagnosis","t":30,"v":0.404,"lo":0.391,"hi":0.417},
{"p":"D","g":"Pregnancy exclusively occurring prior to IIH diagnosis","t":33,"v":0.402,"lo":0.389,"hi":0.415},
{"p":"D","g":"Pregnancy exclusively occurring prior to IIH diagnosis","t":36,"v":0.4,"lo":0.386,"hi":0.414},
{"p":"D","g":"Patients with IIH who were never pregnant","t":0,"v":0.435,"lo":0.421,"hi":0.449},
{"p":"D","g":"Patients with IIH who were never pregnant","t":3,"v":0.431,"lo":0.417,"hi":0.445},
{"p":"D","g":"Patients with IIH who were never pregnant","t":6,"v":0.436,"lo":0.422,"hi":0.45},
{"p":"D","g":"Patients with IIH who were never pregnant","t":9,"v":0.444,"lo":0.43,"hi":0.458},
{"p":"D","g":"Patients with IIH who were never pregnant","t":12,"v":0.446,"lo":0.432,"hi":0.46},
{"p":"D","g":"Patients with IIH who were never pregnant","t":15,"v":0.446,"lo":0.432,"hi":0.46},
{"p":"D","g":"Patients with IIH who were never pregnant","t":18,"v":0.443,"lo":0.429,"hi":0.457},
{"p":"D","g":"Patients with IIH who were never pregnant","t":21,"v":0.437,"lo":0.423,"hi":0.451},
{"p":"D","g":"Patients with IIH who were never pregnant","t":24,"v":0.431,"lo":0.417,"hi":0.445},
{"p":"D","g":"Patients with IIH who were never pregnant","t":27,"v":0.427,"lo":0.413,"hi":0.441},
{"p":"D","g":"Patients with IIH who were never pregnant","t":30,"v":0.424,"lo":0.41,"hi":0.438},
{"p":"D","g":"Patients with IIH who were never pregnant","t":33,"v":0.423,"lo":0.409,"hi":0.437},
{"p":"D","g":"Patients with IIH who were never pregnant","t":36,"v":0.422,"lo":0.408,"hi":0.436}
]
},
"columns": 2,
"spacing": {"row": 47, "column": 53},
"bounds": "flush",
"concat": [
{
 "title": {"text": "A"},
 "width": 215, "height": 250,
 "layer": [
  {"data": {"name": "bg"}, "transform": [{"filter": "datum.p === 'A'"}],
   "mark": {"type": "line", "clip": true, "stroke": "#d2d2d2", "strokeWidth": 0.5, "opacity": 0.6},
   "encoding": {
    "x": {"field": "t", "type": "quantitative", "title": "Time from first review", "scale": {"domain": [0, 36], "nice": false, "zero": false}, "axis": {"values": [0, 6, 12, 18, 24, 30, 36]}},
    "y": {"field": "v", "type": "quantitative", "title": "Perimetric mean deviation (dB)", "scale": {"domain": [-16.1, 6.1], "nice": false, "zero": false}, "axis": {"values": [-15, -10, -5, 0, 5]}},
    "detail": {"field": "id"}}},
  {"data": {"name": "fit"}, "transform": [{"filter": "datum.p === 'A'"}],
   "mark": {"type": "area", "clip": true, "opacity": 0.5, "interpolate": "monotone"},
   "encoding": {
    "x": {"field": "t", "type": "quantitative", "title": "Time from first review", "scale": {"domain": [0, 36], "nice": false, "zero": false}},
    "y": {"field": "lo", "type": "quantitative", "title": "Perimetric mean deviation (dB)", "scale": {"domain": [-16.1, 6.1], "nice": false, "zero": false}},
    "y2": {"field": "hi"},
    "fill": {"field": "g", "type": "nominal", "scale": {"domain": ["Patients with IIH who were never pregnant", "Pregnancy exclusively occurring prior to IIH diagnosis", "Established IIH who become pregnant", "IIH diagnosed in pregnancy"], "range": ["#9c9696", "#9c9696", "#9c9696", "#9c9696"]},
     "legend": {"title": null, "orient": "none", "legendX": 492, "legendY": 1, "labelFontSize": 9, "labelLimit": 0, "symbolType": "M-0.9,-2.6H0.9V2.6H-0.9Z", "symbolSize": 100, "symbolStrokeWidth": 0, "symbolOpacity": 0.5, "labelOffset": 0, "rowPadding": 0,
      "labelExpr": "''"}}}},
  {"data": {"name": "fit"}, "transform": [{"filter": "datum.p === 'A'"}],
   "mark": {"type": "line", "clip": true, "strokeWidth": 2, "interpolate": "monotone"},
   "encoding": {
    "x": {"field": "t", "type": "quantitative", "title": "Time from first review", "scale": {"domain": [0, 36], "nice": false, "zero": false}},
    "y": {"field": "v", "type": "quantitative", "title": "Perimetric mean deviation (dB)", "scale": {"domain": [-16.1, 6.1], "nice": false, "zero": false}},
    "stroke": {"field": "g", "type": "nominal", "scale": {"domain": ["IIH diagnosed in pregnancy", "Established IIH who become pregnant", "Pregnancy exclusively occurring prior to IIH diagnosis", "Patients with IIH who were never pregnant"], "range": ["#F8766D", "#6DB03A", "#00BFC4", "#C77CDD"]},
     "legend": {"title": "Preganancy timing", "orient": "none", "legendX": 492, "legendY": -12, "titleFontSize": 10, "titleFontWeight": "normal", "titleColor": "#1a1a1a", "titlePadding": 6, "labelFontSize": 9, "labelColor": "#1a1a1a", "labelLimit": 0, "symbolType": "stroke", "symbolStrokeWidth": 2.5, "symbolSize": 70, "labelOffset": 5, "rowPadding": 4,
      "labelExpr": "datum.label == 'IIH diagnosed in pregnancy' ? ['IIH diagnosed in', 'pregnancy'] : datum.label == 'Established IIH who become pregnant' ? ['Established IIH who', 'become pregnant'] : datum.label == 'Pregnancy exclusively occurring prior to IIH diagnosis' ? ['Pregnancy exclusively', 'occurring prior to IIH diagnosis'] : ['Patients with IIH who were', 'never pregnant']",
      "encode": {"labels": {"update": {"lineHeight": {"value": 11}, "dy": {"value": -5}}}}}}}}
 ]
},
{
 "title": {"text": "B"},
 "width": 215, "height": 250,
 "layer": [
  {"data": {"name": "bg"}, "transform": [{"filter": "datum.p === 'B'"}],
   "mark": {"type": "line", "clip": true, "stroke": "#d2d2d2", "strokeWidth": 0.5, "opacity": 0.6},
   "encoding": {
    "x": {"field": "t", "type": "quantitative", "title": "Time from first review", "scale": {"domain": [0, 36], "nice": false, "zero": false}, "axis": {"values": [0, 6, 12, 18, 24, 30, 36]}},
    "y": {"field": "v", "type": "quantitative", "title": "Retinal nerve fiber layer (μm)", "scale": {"domain": [-16, 315], "nice": false, "zero": false}, "axis": {"values": [0, 100, 200, 300]}},
    "detail": {"field": "id"}}},
  {"data": {"name": "fit"}, "transform": [{"filter": "datum.p === 'B'"}],
   "mark": {"type": "area", "clip": true, "opacity": 0.5, "interpolate": "monotone"},
   "encoding": {
    "x": {"field": "t", "type": "quantitative", "title": "Time from first review", "scale": {"domain": [0, 36], "nice": false, "zero": false}},
    "y": {"field": "lo", "type": "quantitative", "title": "Retinal nerve fiber layer (μm)", "scale": {"domain": [-16, 315], "nice": false, "zero": false}},
    "y2": {"field": "hi"},
    "fill": {"field": "g", "type": "nominal", "scale": {"domain": ["Patients with IIH who were never pregnant", "Pregnancy exclusively occurring prior to IIH diagnosis", "Established IIH who become pregnant", "IIH diagnosed in pregnancy"]}}}},
  {"data": {"name": "fit"}, "transform": [{"filter": "datum.p === 'B'"}],
   "mark": {"type": "line", "clip": true, "strokeWidth": 2, "interpolate": "monotone"},
   "encoding": {
    "x": {"field": "t", "type": "quantitative", "title": "Time from first review", "scale": {"domain": [0, 36], "nice": false, "zero": false}},
    "y": {"field": "v", "type": "quantitative", "title": "Retinal nerve fiber layer (μm)", "scale": {"domain": [-16, 315], "nice": false, "zero": false}},
    "stroke": {"field": "g", "type": "nominal", "scale": {"domain": ["IIH diagnosed in pregnancy", "Established IIH who become pregnant", "Pregnancy exclusively occurring prior to IIH diagnosis", "Patients with IIH who were never pregnant"]}}}}
 ]
},
{
 "title": {"text": "C"},
 "width": 215, "height": 250,
 "layer": [
  {"data": {"name": "bg"}, "transform": [{"filter": "datum.p === 'C'"}],
   "mark": {"type": "line", "clip": true, "stroke": "#d2d2d2", "strokeWidth": 0.5, "opacity": 0.6},
   "encoding": {
    "x": {"field": "t", "type": "quantitative", "title": "Time from first review", "scale": {"domain": [0, 36], "nice": false, "zero": false}, "axis": {"values": [0, 6, 12, 18, 24, 30, 36]}},
    "y": {"field": "v", "type": "quantitative", "title": "Total retinal thickness (μm)", "scale": {"domain": [179, 619], "nice": false, "zero": false}, "axis": {"values": [200, 300, 400, 500, 600]}},
    "detail": {"field": "id"}}},
  {"data": {"name": "fit"}, "transform": [{"filter": "datum.p === 'C'"}],
   "mark": {"type": "area", "clip": true, "opacity": 0.5, "interpolate": "monotone"},
   "encoding": {
    "x": {"field": "t", "type": "quantitative", "title": "Time from first review", "scale": {"domain": [0, 36], "nice": false, "zero": false}},
    "y": {"field": "lo", "type": "quantitative", "title": "Total retinal thickness (μm)", "scale": {"domain": [179, 619], "nice": false, "zero": false}},
    "y2": {"field": "hi"},
    "fill": {"field": "g", "type": "nominal", "scale": {"domain": ["Patients with IIH who were never pregnant", "Pregnancy exclusively occurring prior to IIH diagnosis", "Established IIH who become pregnant", "IIH diagnosed in pregnancy"]}}}},
  {"data": {"name": "fit"}, "transform": [{"filter": "datum.p === 'C'"}],
   "mark": {"type": "line", "clip": true, "strokeWidth": 2, "interpolate": "monotone"},
   "encoding": {
    "x": {"field": "t", "type": "quantitative", "title": "Time from first review", "scale": {"domain": [0, 36], "nice": false, "zero": false}},
    "y": {"field": "v", "type": "quantitative", "title": "Total retinal thickness (μm)", "scale": {"domain": [179, 619], "nice": false, "zero": false}},
    "stroke": {"field": "g", "type": "nominal", "scale": {"domain": ["IIH diagnosed in pregnancy", "Established IIH who become pregnant", "Pregnancy exclusively occurring prior to IIH diagnosis", "Patients with IIH who were never pregnant"]}}}}
 ]
},
{
 "title": {"text": "D"},
 "width": 215, "height": 250,
 "layer": [
  {"data": {"name": "bg"}, "transform": [{"filter": "datum.p === 'D'"}],
   "mark": {"type": "line", "clip": true, "stroke": "#d2d2d2", "strokeWidth": 0.5, "opacity": 0.6},
   "encoding": {
    "x": {"field": "t", "type": "quantitative", "title": "Time from first review", "scale": {"domain": [0, 36], "nice": false, "zero": false}, "axis": {"values": [0, 6, 12, 18, 24, 30, 36]}},
    "y": {"field": "v", "type": "quantitative", "title": "Ganglion cell layer volume (mm³)", "scale": {"domain": [0.284, 0.6146], "nice": false, "zero": false}, "axis": {"values": [0.3, 0.4, 0.5, 0.6], "format": ".1f"}},
    "detail": {"field": "id"}}},
  {"data": {"name": "fit"}, "transform": [{"filter": "datum.p === 'D'"}],
   "mark": {"type": "area", "clip": true, "opacity": 0.5, "interpolate": "monotone"},
   "encoding": {
    "x": {"field": "t", "type": "quantitative", "title": "Time from first review", "scale": {"domain": [0, 36], "nice": false, "zero": false}},
    "y": {"field": "lo", "type": "quantitative", "title": "Ganglion cell layer volume (mm³)", "scale": {"domain": [0.284, 0.6146], "nice": false, "zero": false}},
    "y2": {"field": "hi"},
    "fill": {"field": "g", "type": "nominal", "scale": {"domain": ["Patients with IIH who were never pregnant", "Pregnancy exclusively occurring prior to IIH diagnosis", "Established IIH who become pregnant", "IIH diagnosed in pregnancy"]}}}},
  {"data": {"name": "fit"}, "transform": [{"filter": "datum.p === 'D'"}],
   "mark": {"type": "line", "clip": true, "strokeWidth": 2, "interpolate": "monotone"},
   "encoding": {
    "x": {"field": "t", "type": "quantitative", "title": "Time from first review", "scale": {"domain": [0, 36], "nice": false, "zero": false}},
    "y": {"field": "v", "type": "quantitative", "title": "Ganglion cell layer volume (mm³)", "scale": {"domain": [0.284, 0.6146], "nice": false, "zero": false}},
    "stroke": {"field": "g", "type": "nominal", "scale": {"domain": ["IIH diagnosed in pregnancy", "Established IIH who become pregnant", "Pregnancy exclusively occurring prior to IIH diagnosis", "Patients with IIH who were never pregnant"]}}}}
 ]
}
]
}
